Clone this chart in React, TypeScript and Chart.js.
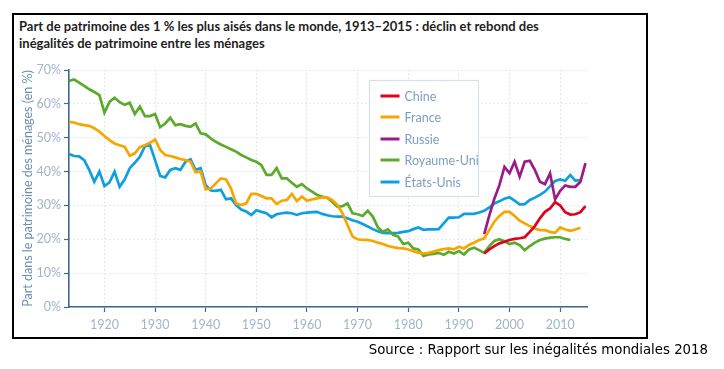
import React, { useEffect, useRef } from "react";
import { Chart, registerables } from "chart.js";

Chart.register(...registerables);

const SERIES_NAMES = ["Chine", "France", "Russie", "Royaume-Uni", "États-Unis"];
const SERIES_COLORS = ["#e3001b", "#f7a600", "#9b1b88", "#5aab2c", "#0e9fe0"];
const START_YEARS = [1995, 1913, 1995, 1913, 1913];

const chine = [15.8, 17.0, 18.0, 18.8, 19.3, 19.8, 20.1, 20.3, 20.6, 22.2, 23.9, 26.2, 28.1, 29.1, 31.0, 30.0, 28.0, 27.3, 27.4, 28.0, 29.8];

const france = [
  54.7, 54.5, 54.0, 53.7, 53.5, 52.8, 51.8, 50.5, 49.3, 48.3,
  47.8, 47.3, 44.7, 45.4, 47.2, 47.8, 48.5, 49.5, 46.4, 44.9,
  44.6, 44.2, 43.7, 43.4, 42.9, 39.8, 40.0, 34.8, 35.0, 36.5,
  38.0, 37.7, 35.0, 30.6, 30.1, 30.6, 33.4, 33.4, 32.8, 32.1,
  32.1, 30.4, 31.4, 31.6, 33.4, 31.3, 32.6, 31.4, 31.8, 32.1,
  32.4, 32.4, 31.6, 30.2, 27.7, 24.2, 20.8, 20.0, 19.8, 19.8,
  19.5, 19.0, 18.6, 18.0, 17.7, 17.4, 17.3, 17.0, 16.5, 16.0,
  15.8, 16.0, 16.4, 16.8, 17.1, 17.3, 17.0, 17.8, 17.3, 18.3,
  19.0, 19.8, 20.3, 22.7, 25.2, 26.9, 28.1, 28.1, 26.9, 25.5,
  24.7, 23.9, 23.2, 22.7, 22.7, 22.2, 21.9, 23.5, 22.9, 22.5,
  22.9, 23.4,
];

const russie = [21.5, 27.0, 32.0, 36.0, 41.4, 39.5, 42.9, 38.5, 42.9, 43.2, 40.5, 37.0, 36.3, 39.5, 31.8, 34.3, 35.9, 35.5, 35.5, 37.0, 42.5];

const royaumeUni = [
  66.8, 67.2, 66.3, 65.3, 64.3, 63.5, 62.6, 57.4, 60.6, 61.8,
  60.5, 59.7, 60.3, 57.0, 59.2, 56.4, 56.4, 57.0, 53.1, 54.2,
  55.9, 53.7, 54.0, 53.5, 53.2, 54.2, 51.3, 51.0, 49.8, 48.8,
  48.0, 47.3, 46.6, 45.9, 44.9, 44.2, 43.4, 42.9, 41.9, 39.0,
  39.0, 41.0, 38.0, 38.0, 36.7, 35.5, 36.3, 35.0, 34.1, 33.1,
  32.6, 32.3, 31.0, 29.6, 29.8, 30.6, 27.7, 27.4, 26.9, 28.4,
  26.7, 23.5, 22.2, 22.9, 21.3, 20.8, 18.6, 19.0, 17.3, 17.0,
  15.1, 15.5, 15.7, 16.0, 15.4, 16.3, 15.8, 16.5, 15.5, 17.0,
  17.5, 16.8, 16.0, 18.0, 19.5, 20.0, 19.4, 18.6, 19.0, 18.3,
  16.8, 18.0, 19.0, 19.8, 20.2, 20.5, 20.6, 20.6, 20.1, 19.8,
];

const etatsUnis = [
  45.2, 44.6, 44.5, 43.4, 40.5, 37.0, 40.0, 35.7, 36.8, 40.0,
  35.5, 37.7, 41.0, 42.6, 44.4, 47.5, 47.8, 43.4, 38.7, 38.3,
  40.5, 41.0, 40.5, 42.9, 43.6, 40.5, 41.0, 36.0, 34.4, 34.3,
  34.6, 31.8, 32.1, 30.1, 28.8, 28.2, 27.2, 28.6, 28.1, 27.7,
  26.5, 27.4, 27.7, 27.9, 27.7, 27.2, 27.7, 27.9, 28.0, 28.1,
  27.5, 27.1, 26.8, 26.7, 26.7, 26.2, 25.6, 25.2, 24.5, 23.8,
  23.0, 22.4, 21.9, 21.8, 21.8, 21.9, 22.2, 22.4, 23.0, 23.5,
  22.8, 22.9, 22.9, 23.0, 24.7, 26.4, 26.4, 26.5, 27.5, 27.5,
  27.5, 27.9, 28.4, 29.4, 30.6, 31.2, 32.0, 32.4, 31.4, 30.3,
  30.4, 31.6, 32.3, 33.1, 34.1, 35.7, 37.2, 37.7, 37.3, 39.0,
  37.3, 37.5,
];

const SERIES_VALUES = [chine, france, russie, royaumeUni, etatsUnis];

const X_TICKS = [1920, 1930, 1940, 1950, 1960, 1970, 1980, 1990, 2000, 2010];
const X_MIN = 1913;
const X_MAX = 2015.3;
const Y_MIN = 0;
const Y_MAX = 70;
const Y_STEP = 10;

const TITLE_LINE_1 = "Part de patrimoine des 1 % les plus aisés dans le monde, 1913–2015 : déclin et rebond des";
const TITLE_LINE_2 = "inégalités de patrimoine entre les ménages";
const Y_TITLE = "Part dans le patrimoine des ménages (en %)";
const SOURCE = "Source : Rapport sur les inégalités mondiales 2018";

const AXIS_COLOR = "#3d6a8b";
const GRID_COLOR = "#cbd5de";
const TICK_TEXT = "#9fb5ca";

const legendPlugin = {
  id: "boxLegend",
  afterDatasetsDraw(chart: any) {
    const { ctx, chartArea } = chart;
    const x0 = chartArea.left + 300.5;
    const y0 = chartArea.top + 10.5;
    const w = 109;
    const h = 116;
    ctx.save();
    ctx.fillStyle = "#ffffff";
    ctx.fillRect(x0, y0, w, h);
    ctx.strokeStyle = "#d6e0e9";
    ctx.lineWidth = 1.2;
    ctx.strokeRect(x0, y0, w, h);
    chart.data.datasets.forEach((ds: any, i: number) => {
      const y = Math.round(y0 + 15 + i * 21.6);
      ctx.strokeStyle = ds.borderColor;
      ctx.lineWidth = 3;
      ctx.beginPath();
      ctx.moveTo(x0 + 11, y);
      ctx.lineTo(x0 + 30, y);
      ctx.stroke();
      ctx.fillStyle = "#7d9ebd";
      ctx.font = "12.5px Lato";
      ctx.textBaseline = "middle";
      ctx.textAlign = "left";
      ctx.fillText(ds.label, x0 + 35, y + 0.5);
    });
    ctx.restore();
  },
};

export default function App() {
  const canvasRef = useRef<HTMLCanvasElement | null>(null);

  useEffect(() => {
    if (!canvasRef.current) return;
    const datasets = SERIES_NAMES.map((name, i) => ({
      label: name,
      data: SERIES_VALUES[i].map((v, k) => ({ x: START_YEARS[i] + k, y: v })),
      borderColor: SERIES_COLORS[i],
      backgroundColor: SERIES_COLORS[i],
      borderWidth: 2.7,
      pointRadius: 0,
      fill: false,
      tension: 0,
    }));

    const chart = new Chart(canvasRef.current, {
      type: "line",
      data: { datasets },
      plugins: [legendPlugin],
      options: {
        animation: false,
        responsive: false,
        maintainAspectRatio: false,
        layout: { padding: { left: 20, top: 70, right: 137, bottom: 32 } },
        plugins: { legend: { display: false }, tooltip: { enabled: false }, title: { display: false } },
        scales: {
          x: {
            type: "linear",
            min: X_MIN,
            max: X_MAX,
            afterBuildTicks: (s: any) => {
              s.ticks = X_TICKS.map((v) => ({ value: v }));
            },
            afterFit: (s: any) => {
              s.height = 30;
            },
            ticks: {
              color: TICK_TEXT,
              font: { family: "Lato", size: 12.5 },
              padding: 5,
              maxRotation: 0,
              autoSkip: false,
              callback: (v: any) => String(v),
            },
            grid: {
              color: GRID_COLOR,
              lineWidth: 1,
              tickColor: AXIS_COLOR,
              tickLength: 5,
              tickWidth: 1.2,
              tickBorderDash: [],
            },
            border: { color: AXIS_COLOR, width: 1.6, dash: [1, 3] },
          },
          y: {
            type: "linear",
            min: Y_MIN,
            max: Y_MAX,
            afterFit: (s: any) => {
              s.width = 49;
            },
            ticks: {
              stepSize: Y_STEP,
              color: TICK_TEXT,
              font: { family: "Lato", size: 12.5 },
              padding: 3,
              callback: (v: any) => v + "%",
            },
            grid: {
              color: GRID_COLOR,
              lineWidth: 1,
              tickColor: AXIS_COLOR,
              tickLength: 5,
              tickWidth: 1.2,
              tickBorderDash: [],
            },
            border: { color: AXIS_COLOR, width: 1.6, dash: [1, 3] },
            title: {
              display: true,
              text: Y_TITLE,
              color: "#6c8fb0",
              font: { family: "Lato", size: 12.5 },
              padding: { top: 0, bottom: 0 },
            },
          },
        },
      },
    } as any);
    return () => chart.destroy();
  }, []);

  return (
    <div style={{ position: "absolute", left: 0, top: 0, width: 724, height: 369, background: "#fff", overflow: "hidden" }}>
      <div
        style={{
          position: "absolute",
          left: 12,
          top: 13,
          width: 636,
          height: 326,
          border: "2.5px solid #000",
          boxSizing: "border-box",
        }}
      />
      <div
        style={{
          position: "absolute",
          left: 19,
          top: 18,
          fontFamily: "Lato",
          fontWeight: "bold",
          fontSize: 13,
          lineHeight: "17px",
          color: "#1e1e1e",
          whiteSpace: "nowrap",
        }}
      >
        {TITLE_LINE_1}
        <br />
        {TITLE_LINE_2}
      </div>
      <canvas ref={canvasRef} width={724} height={369} style={{ position: "absolute", left: 0, top: 0, width: 724, height: 369 }} />
      <div
        style={{
          position: "absolute",
          right: 16,
          top: 342,
          fontFamily: "DejaVu Sans",
          fontSize: 13.3,
          lineHeight: "16px",
          color: "#000",
          whiteSpace: "nowrap",
        }}
      >
        {SOURCE}
      </div>
    </div>
  );
}
